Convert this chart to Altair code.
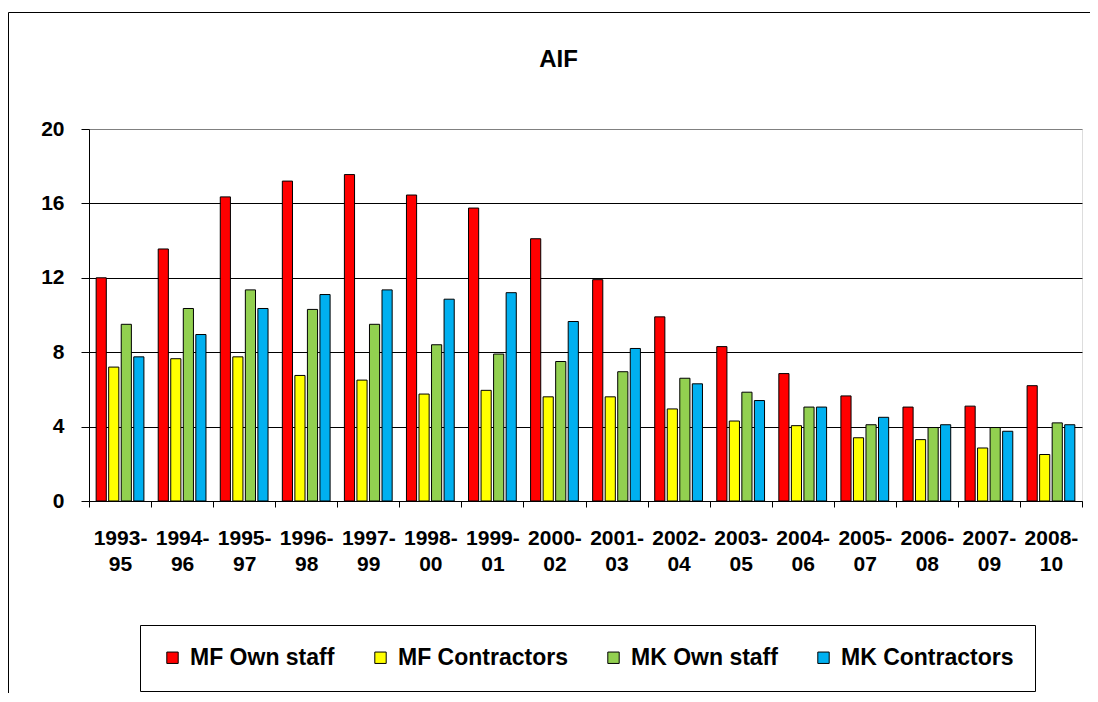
import altair as alt
import pandas as pd

periods = ["1993-95", "1994-96", "1995-97", "1996-98", "1997-99", "1998-00", "1999-01", "2000-02",
           "2001-03", "2002-04", "2003-05", "2004-06", "2005-07", "2006-08", "2007-09", "2008-10"]
series_names = ["MF Own staff", "MF Contractors", "MK Own staff", "MK Contractors"]
series_colors = ["#FF0000", "#FFFF00", "#92D050", "#00B0F0"]
mf_own = [12.0, 13.55, 16.35, 17.2, 17.55, 16.45, 15.75, 14.1, 11.9, 9.9, 8.3, 6.85, 5.65, 5.05, 5.1, 6.2]
mf_con = [7.2, 7.65, 7.75, 6.75, 6.5, 5.75, 5.95, 5.6, 5.6, 4.95, 4.3, 4.05, 3.4, 3.3, 2.85, 2.5]
mk_own = [9.5, 10.35, 11.35, 10.3, 9.5, 8.4, 7.9, 7.5, 6.95, 6.6, 5.85, 5.05, 4.1, 3.95, 3.95, 4.2]
mk_con = [7.75, 8.95, 10.35, 11.1, 11.35, 10.85, 11.2, 9.65, 8.2, 6.3, 5.4, 5.05, 4.5, 4.1, 3.75, 4.1]
y_ticks = [0, 4, 8, 12, 16, 20]

rows = []
for name, vals in zip(series_names, [mf_own, mf_con, mk_own, mk_con]):
    for p, v in zip(periods, vals):
        rows.append({"period": p, "series": name, "value": v})
df = pd.DataFrame(rows)

FONT = "Liberation Sans, Arial, sans-serif"

bars = alt.Chart(df).mark_bar(stroke="black", strokeWidth=1).encode(
    x=alt.X("period:N", sort=periods, title=None,
            scale=alt.Scale(paddingInner=0, paddingOuter=0),
            axis=alt.Axis(labelAngle=0, tickBand="extent", tickSize=6, tickColor="black",
                          domainColor="black", labelFontSize=21, labelFontWeight="bold",
                          labelFont=FONT, labelColor="black", labelPadding=20,
                          labelLineHeight=26, labelLimit=200,
                          labelExpr="datum.label ? [split(datum.label,'-')[0] + '-', split(datum.label,'-')[1]] : ''")),
    xOffset=alt.XOffset("series:N", sort=series_names,
                        scale=alt.Scale(paddingInner=0.19, paddingOuter=0.57)),
    y=alt.Y("value:Q", title=None,
            scale=alt.Scale(domain=[0, 20], nice=False),
            axis=alt.Axis(values=y_ticks, grid=True,
                          gridColor={"condition": {"test": "datum.value == 20", "value": "#808080"},
                                     "value": "black"},
                          gridWidth=1,
                          tickSize=8, tickColor="black", domainColor="black",
                          labelFontSize=21, labelFontWeight="bold", labelFont=FONT,
                          labelColor="black", labelPadding=17)),
    color=alt.Color("series:N", sort=series_names,
                    scale=alt.Scale(domain=series_names, range=series_colors),
                    legend=alt.Legend(title=None, orient="none", legendX=51, legendY=496,
                                      direction="horizontal", columns=4,
                                      symbolType="square", symbolSize=130,
                                      symbolStrokeColor="black", symbolStrokeWidth=1,
                                      labelFont=FONT, labelFontSize=23, labelFontWeight="bold",
                                      labelColor="black", labelOffset=6, labelLimit=300,
                                      columnPadding=34, strokeColor="black", padding=21)),
)

frame_df = pd.DataFrame({"k": [0]})
frame = alt.Chart(frame_df).mark_rect(filled=False, stroke="black", strokeWidth=1).encode(
    x=alt.value(-80.5), x2=alt.value(1030), y=alt.value(-116.5), y2=alt.value(700)
)

chart = alt.layer(frame, bars).properties(
    width=993, height=372,
    title=alt.Title("AIF", fontSize=24, fontWeight="bold", font=FONT, color="black",
                    anchor="middle", frame="group", baseline="alphabetic",
                    offset=-79, dx=-27),
    autosize=alt.AutoSizeParams(type="none"),
    padding={"left": 81, "top": 121, "right": 8, "bottom": 192},
).configure_view(stroke="#808080", strokeWidth=1).configure(background="white")

chart.save("out.html", embed_options={"renderer": "svg", "actions": False})
